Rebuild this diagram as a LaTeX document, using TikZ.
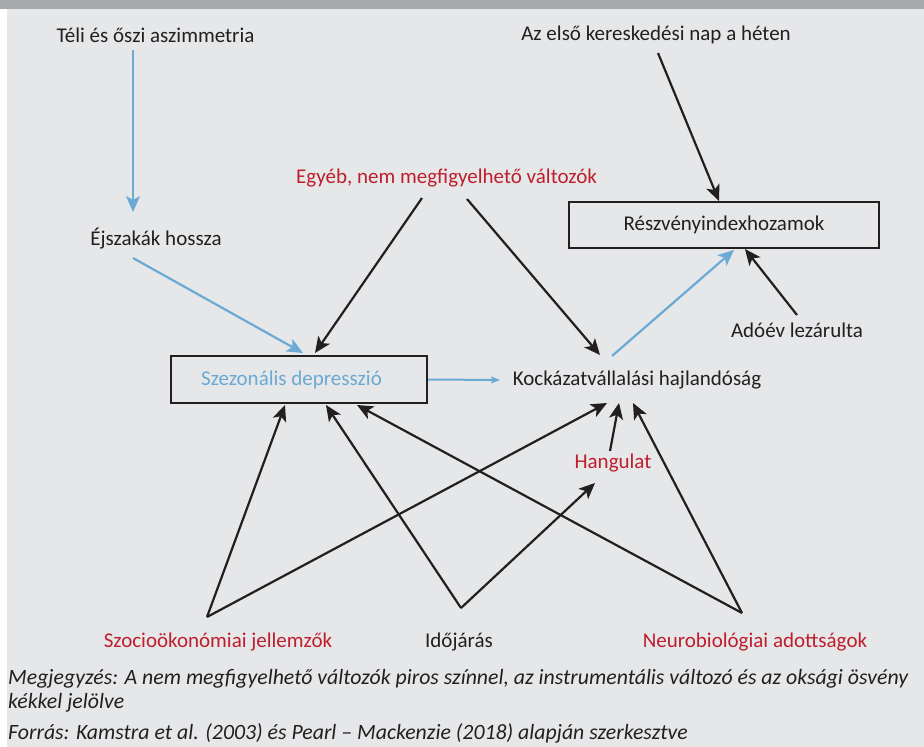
\documentclass[tikz,border=0pt]{standalone}
\usepackage{fontspec}
\setmainfont{Carlito}
\usetikzlibrary{arrows.meta}
\definecolor{bg}{HTML}{E6E7E8}
\definecolor{band}{HTML}{A7A9AC}
\definecolor{ink}{HTML}{231F20}
\definecolor{myred}{HTML}{BE1E2D}
\definecolor{myblue}{HTML}{6BAAD4}
\tikzset{
  lbl/.style={font=\fontsize{21}{25}\selectfont, text=ink, inner sep=0pt},
  redlbl/.style={lbl, text=myred},
  bluelbl/.style={lbl, text=myblue},
  boxnode/.style={draw=ink, line width=2.4pt, inner sep=0pt},
  note/.style={font=\fontsize{21.8}{25}\selectfont\itshape, text=ink, inner sep=0pt, anchor=base west},
  blk/.style={draw=ink, line width=2.2pt, -{Stealth[length=16pt,width=14pt,inset=4pt]}},
  blu/.style={draw=myblue, line width=2.2pt, -{Stealth[length=16pt,width=14pt,inset=4pt]}},
  blusmall/.style={draw=myblue, line width=2pt, -{Stealth[length=9pt,width=7pt,inset=2pt]}}
}
\begin{document}
\begin{tikzpicture}[x=1pt,y=-1pt]
\useasboundingbox (0,0) rectangle (924,747);
\fill[white] (0,0) rectangle (924,747);
\fill[bg] (7,9) rectangle (924,747);
\fill[band] (0,0) rectangle (924,9);

% text nodes
\node[lbl] (teli) at (155.5,35) {Téli és őszi aszimmetria};
\node[lbl] (elso) at (656,35) {Az első kereskedési nap a héten};
\node[lbl] (ejsz) at (156,239) {Éjszakák hossza};
\node[redlbl] (egyeb) at (446.5,178) {Egyéb, nem megfigyelhető változók};
\node[boxnode, minimum width=256pt, minimum height=47pt] (szez) at (299,379.5) {};
\node[bluelbl] (szezt) at (291.5,380) {Szezonális depresszió};
\node[boxnode, minimum width=310pt, minimum height=46pt] (resz) at (724,225) {};
\node[lbl] (reszt) at (724,225) {Részvényindexhozamok};
\node[lbl] (kock) at (637,380) {Kockázatvállalási hajlandóság};
\node[lbl] (adoev) at (797,330) {Adóév lezárulta};
\node[redlbl] (hang) at (613,463) {Hangulat};
\node[redlbl] (szoc) at (218,642) {Szocioökonómiai jellemzők};
\node[lbl] (ido) at (459,642) {Időjárás};
\node[redlbl] (neuro) at (755,642) {Neurobiológiai adottságok};

\node[note] (n1) at (8,684) {Megjegyzés: A nem megfigyelhető változók piros színnel, az instrumentális változó és az oksági ösvény};
\node[note] (n2) at (8,708) {kékkel jelölve};
\node[note] (n3) at (8,739) {Forrás: Kamstra et al. (2003) és Pearl – Mackenzie (2018) alapján szerkesztve};

% connector end points
\coordinate (teliS) at (133,50);
\coordinate (ejszN) at (133,212);
\coordinate (ejszS) at (133,258);
\coordinate (szezA) at (303,353);
\coordinate (szezB) at (315,353);
\coordinate (egyebA) at (422,198);
\coordinate (egyebB) at (467,199);
\coordinate (kockA) at (600,355);
\coordinate (kockB) at (612,356);
\coordinate (kockW) at (500,380);
\coordinate (reszA) at (734,250);
\coordinate (reszB) at (719,201);
\coordinate (reszC) at (745,249);
\coordinate (elsoS) at (658,53);
\coordinate (adoevN) at (797,315);
\coordinate (szocO) at (207,617);
\coordinate (idoO) at (461,608);
\coordinate (neuroO) at (742,613);
\coordinate (szezS1) at (285,405);
\coordinate (szezS2) at (326,405);
\coordinate (szezS3) at (357,405);
\coordinate (kockS1) at (607,403);
\coordinate (kockS2) at (619,403);
\coordinate (kockS3) at (633,403);
\coordinate (hangS) at (595,483);
\coordinate (hangN) at (610,451);

\draw[blu] (teliS) -- (ejszN);
\draw[blu] (ejszS) -- (szezA);
\draw[blk] (egyebA) -- (szezB);
\draw[blk] (egyebB) -- (kockA);
\draw[blusmall] (szez.east) -- (kockW);
\draw[blu] (kockB) -- (reszA);
\draw[blk] (elsoS) -- (reszB);
\draw[blk] (adoevN) -- (reszC);
\draw[blk] (szocO) -- (szezS1);
\draw[blk] (szocO) -- (kockS1);
\draw[blk] (idoO) -- (szezS2);
\draw[blk] (idoO) -- (hangS);
\draw[blk] (neuroO) -- (szezS3);
\draw[blk] (neuroO) -- (kockS3);
\draw[blk] (hangN) -- (kockS2);
\end{tikzpicture}
\end{document}
